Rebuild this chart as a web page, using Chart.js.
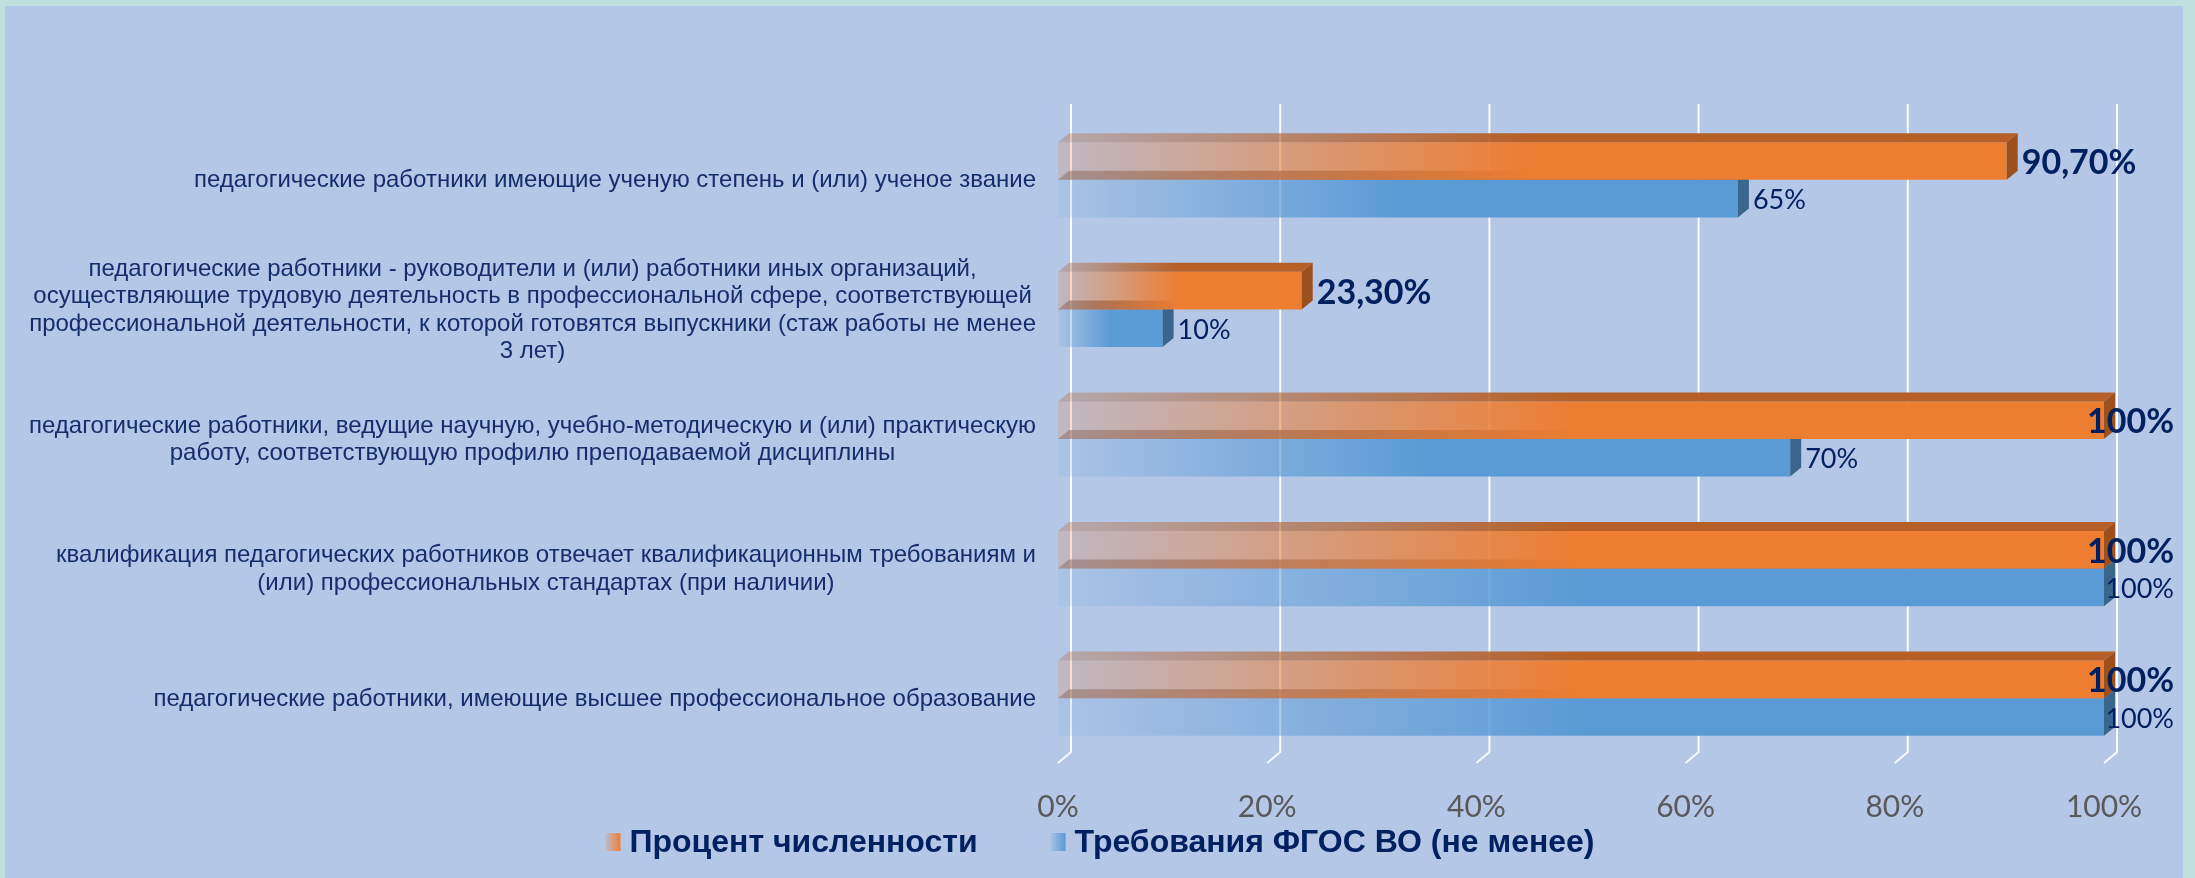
<!DOCTYPE html>
<html>
<head>
<meta charset="utf-8">
<title>Кадровое обеспечение</title>
<script src="https://cdn.jsdelivr.net/npm/chart.js@4.4.1/dist/chart.umd.min.js"></script>
<style>
    html, body { margin: 0; padding: 0; background: #bfe0df; }
    #wrap { position: relative; width: 2195px; height: 878px; }
</style>
</head>
<body>
<div id="wrap"><canvas id="barChart"></canvas></div>
<script>
(function () {
    "use strict";

    // data
    var categories = [
        ["педагогические работники имеющие ученую степень и (или) ученое звание"],
        ["педагогические работники - руководители и (или) работники иных организаций,",
         "осуществляющие трудовую деятельность в профессиональной сфере, соответствующей",
         "профессиональной деятельности, к которой готовятся выпускники (стаж работы не менее",
         "3 лет)"],
        ["педагогические работники, ведущие научную, учебно-методическую и (или) практическую",
         "работу, соответствующую профилю преподаваемой дисциплины"],
        ["квалификация педагогических работников отвечает квалификационным требованиям и",
         "(или) профессиональных стандартах (при наличии)"],
        ["педагогические работники, имеющие высшее профессиональное образование"]
    ];
    var seriesNames = ["Процент численности", "Требования ФГОС ВО (не менее)"];
    var percentValues = [90.7, 23.3, 100, 100, 100];
    var fgosValues = [65, 10, 70, 100, 100];
    var tickValues = [0, 20, 40, 60, 80, 100];

    // look
    var ORANGE = [237, 125, 49], ORANGE_TOP = [182, 95, 38], ORANGE_SIDE = [158, 80, 28];
    var BLUE = [91, 155, 213], BLUE_SIDE = [58, 102, 142], SHADE = [112, 100, 110];
    var DX = 11, DY = 9;        // bar depth
    var GX = 13, GY = 11;       // back wall offset for grid
    var LABEL_RIGHT = 1036, LINE_H = 27.6;
    var VALUE_MAX_RIGHT = 2174;

    function rgba(c, a) { return "rgba(" + c[0] + "," + c[1] + "," + c[2] + "," + a + ")"; }

    function fade(c, x0, x1, a0) {
        var g = document.getElementById("barChart").getContext("2d").createLinearGradient(x0, 0, x1, 0);
        g.addColorStop(0, rgba(c, a0));
        g.addColorStop(0.5, rgba(c, 1));
        g.addColorStop(1, rgba(c, 1));
        return g;
    }

    function barFill(color, a0) {
        return function (ctx) {
            var chart = ctx.chart;
            if (!chart.chartArea || ctx.type !== "data") return rgba(color, 1);
            var xs = chart.scales.x;
            return fade(color, xs.getPixelForValue(0), xs.getPixelForValue(ctx.raw), a0);
        };
    }

    function formatPct(v) {
        return (Number.isInteger(v) ? String(v) : v.toFixed(2).replace(".", ",")) + "%";
    }

    function faces(c, bar, topColor, sideColor, topA0) {
        var left = bar.base, right = bar.x;
        var top = bar.y - bar.height / 2, bottom = bar.y + bar.height / 2;
        c.fillStyle = fade(topColor, left, right, topA0);
        c.beginPath();
        c.moveTo(left, top); c.lineTo(right, top);
        c.lineTo(right + DX, top - DY); c.lineTo(left + DX, top - DY);
        c.closePath(); c.fill();

        c.fillStyle = rgba(sideColor, 1);
        c.beginPath();
        c.moveTo(right, top); c.lineTo(right + DX, top - DY);
        c.lineTo(right + DX, bottom - DY); c.lineTo(right, bottom);
        c.closePath(); c.fill();
    }

    var backgroundPlugin = {
        id: "panel",
        beforeDraw: function (chart) {
            var c = chart.ctx;
            c.save();
            c.fillStyle = "#bfe0df";
            c.fillRect(0, 0, chart.width, chart.height);
            c.fillStyle = "#b4c7e7";
            c.fillRect(5, 6, 2178, chart.height - 6);
            c.restore();
        }
    };

    var gridPlugin = {
        id: "grid3d",
        beforeDatasetsDraw: function (chart) {
            var c = chart.ctx, xs = chart.scales.x, a = chart.chartArea;
            c.save();
            c.strokeStyle = "rgba(255,255,255,0.9)";
            c.lineWidth = 2;
            tickValues.forEach(function (v) {
                var xf = xs.getPixelForValue(v);
                c.beginPath();
                c.moveTo(xf + GX, a.top - GY);
                c.lineTo(xf + GX, a.bottom - GY);
                c.lineTo(xf, a.bottom);
                c.stroke();
            });
            c.restore();
        }
    };

    var facesPlugin = {
        id: "faces3d",
        afterDatasetDraw: function (chart, args) {
            var c = chart.ctx;
            c.save();
            args.meta.data.forEach(function (bar) {
                if (args.index === 0) {
                    faces(c, bar, ORANGE_TOP, ORANGE_SIDE, 0.3);
                } else {
                    faces(c, bar, SHADE, BLUE_SIDE, 0.5);
                }
            });
            c.restore();
        }
    };

    var labelsPlugin = {
        id: "texts",
        afterDatasetsDraw: function (chart) {
            var c = chart.ctx;
            c.save();
            c.textBaseline = "middle";
            c.textAlign = "left";
            c.fillStyle = "#002060";
            chart.data.datasets.forEach(function (ds, di) {
                c.font = di === 0 ? "bold 34px Lato" : "27px Lato";
                chart.getDatasetMeta(di).data.forEach(function (bar, i) {
                    var text = formatPct(ds.data[i]);
                    var w = c.measureText(text).width;
                    var x = bar.x + DX + 4;
                    if (x + w > VALUE_MAX_RIGHT) x = VALUE_MAX_RIGHT - w;
                    c.fillText(text, x, bar.y + 2);
                });
            });

            // category labels: block right aligned, lines centred
            var ys = chart.scales.y;
            c.font = '24px "Liberation Sans"';
            c.fillStyle = "#152d6b";
            c.textAlign = "center";
            categories.forEach(function (lines, i) {
                var yc = ys.getPixelForValue(i) + 1;
                var w = Math.max.apply(null, lines.map(function (l) { return c.measureText(l).width; }));
                var cx = LABEL_RIGHT - w / 2;
                lines.forEach(function (l, k) {
                    c.fillText(l, cx, yc + (k - (lines.length - 1) / 2) * LINE_H);
                });
            });

            // legend
            var colors = [ORANGE, BLUE];
            c.font = 'bold 32px "Liberation Sans"';
            c.textAlign = "left";
            c.textBaseline = "alphabetic";
            var box = 15, gap = 9, between = 73, baseY = 852;
            var widths = seriesNames.map(function (s) { return c.measureText(s).width; });
            var total = widths[0] + widths[1] + 2 * (box + gap) + between;
            var x = 1100 - total / 2;
            seriesNames.forEach(function (s, i) {
                c.fillStyle = fade(colors[i], x, x + box * 2, 0.15);
                c.fillRect(x, baseY - 19, box, 18);
                c.fillStyle = "#002060";
                c.fillText(s, x + box + gap, baseY);
                x += box + gap + widths[i] + between;
            });
            c.restore();
        }
    };

    var ctx = document.getElementById("barChart");
    new Chart(ctx, {
        type: "bar",
        data: {
            labels: categories,
            datasets: [
                {
                    label: seriesNames[0],
                    data: percentValues,
                    backgroundColor: barFill(ORANGE, 0.2),
                    borderWidth: 0
                },
                {
                    label: seriesNames[1],
                    data: fgosValues,
                    backgroundColor: barFill(BLUE, 0.1),
                    borderWidth: 0
                }
            ]
        },
        options: {
            indexAxis: "y",
            responsive: true,
            maintainAspectRatio: false,
            animation: false,
            devicePixelRatio: 1,
            layout: { padding: { top: 115, right: 91, bottom: 0, left: 0 } },
            datasets: { bar: { categoryPercentage: 0.58, barPercentage: 1.0 } },
            plugins: {
                legend: { display: false },
                tooltip: { enabled: false }
            },
            scales: {
                x: {
                    min: 0,
                    max: 100,
                    grid: { display: false },
                    border: { display: false },
                    afterBuildTicks: function (scale) {
                        scale.ticks = tickValues.map(function (v) { return { value: v }; });
                    },
                    afterFit: function (scale) { scale.height = 115; },
                    ticks: {
                        padding: 18,
                        color: "#595959",
                        font: { family: "Lato", size: 30 },
                        callback: function (v) { return v + "%"; }
                    }
                },
                y: {
                    grid: { display: false },
                    border: { display: false },
                    ticks: { display: false },
                    afterFit: function (scale) { scale.width = 1058; }
                }
            }
        },
        plugins: [backgroundPlugin, gridPlugin, facesPlugin, labelsPlugin]
    });
})();
</script>
</body>
</html>
